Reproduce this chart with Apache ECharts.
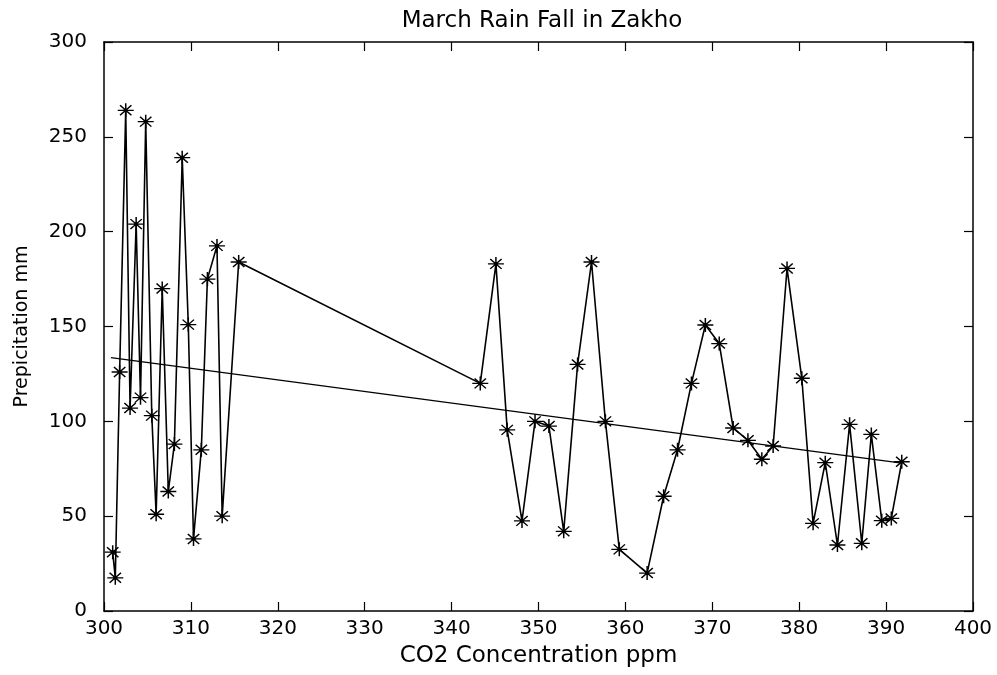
<!DOCTYPE html>
<html>
<head>
<meta charset="utf-8">
<script src="https://cdn.jsdelivr.net/npm/echarts@6/dist/echarts.min.js"></script>
<style>
  html, body { margin: 0; padding: 0; background: #fff; }
  #chart { width: 997px; height: 675px; }
</style>
</head>
<body>
<div id="chart"></div>
<script>
// CO2 concentration (ppm) for each March
const co2 = [301.0, 301.3, 301.8, 302.5, 303.0, 303.7, 304.2, 304.8, 305.5, 306.0,
  306.7, 307.4, 308.1, 309.0, 309.7, 310.3, 311.2, 311.9, 313.0, 313.6, 315.5,
  343.3, 345.1, 346.4, 348.1, 349.6, 351.2, 352.9, 354.5, 356.1, 357.7, 359.3,
  362.5, 364.4, 366.0, 367.6, 369.2, 370.8, 372.4, 374.1, 375.7, 377.0, 378.6,
  380.3, 381.6, 383.0, 384.4, 385.8, 387.2, 388.3, 389.5, 390.6, 391.8]
// precipitation (mm)
const rain = [31, 17.5, 126, 264, 107, 204, 112.5, 258, 103, 51,
  170, 63, 88, 239, 151, 38, 85, 175, 192.5, 50, 184,
  120, 183, 95.5, 47.5, 100, 97.5, 42, 130, 184, 100, 32.5,
  20, 60.5, 85, 120, 150.8, 141, 96.5, 90, 80, 87, 180.6,
  122.7, 46.2, 78.2, 34.8, 98.4, 35.7, 93.1, 47.6, 48.8, 78.7]
// fitted trend line end points
const trendX = [300.8, 391.8]
const trendY = [133.6, 78.0]

const font = 'DejaVu Sans'
const star = 'path://M8,0L8,16M0,8L16,8M2.3,2.3L13.7,13.7M2.3,13.7L13.7,2.3M6.6,6.6L9.4,6.6L9.4,9.4L6.6,9.4Z'

const chart = echarts.init(document.getElementById('chart'))

const baseAxis = {
  axisLine: { show: true, onZero: false, lineStyle: { color: '#000', width: 1.5 } },
  axisTick: { show: true, inside: true, length: 9, lineStyle: { color: '#000', width: 1.2 } },
  splitLine: { show: false }
}

chart.setOption({
  animation: false,
  backgroundColor: '#fff',
  title: {
    text: 'March Rain Fall in Zakho',
    left: 537,
    textAlign: 'center',
    top: 5,
    textStyle: { fontFamily: font, fontSize: 23, fontWeight: 'normal', color: '#000' }
  },
  grid: { left: 104, right: 24, top: 42, bottom: 64 },
  xAxis: [
    Object.assign({}, baseAxis, {
      type: 'value', min: 300, max: 400, interval: 10,
      name: 'CO2 Concentration ppm',
      nameLocation: 'middle',
      nameGap: 34,
      nameTextStyle: { fontFamily: font, fontSize: 23, color: '#000' },
      axisLabel: { fontFamily: font, fontSize: 20, color: '#000', margin: 8 }
    }),
    Object.assign({}, baseAxis, {
      type: 'value', min: 300, max: 400, interval: 10, position: 'top',
      axisLabel: { show: false }
    })
  ],
  yAxis: [
    Object.assign({}, baseAxis, {
      type: 'value', min: 0, max: 300, interval: 50,
      name: 'Prepicitation mm',
      nameLocation: 'middle',
      nameGap: 72,
      nameTextStyle: { fontFamily: font, fontSize: 19, color: '#000' },
      axisLabel: { fontFamily: font, fontSize: 20, color: '#000', margin: 17 }
    }),
    Object.assign({}, baseAxis, {
      type: 'value', min: 0, max: 300, interval: 50, position: 'right',
      axisLabel: { show: false }
    })
  ],
  series: [
    {
      type: 'line',
      data: co2.map((x, i) => [x, rain[i]]),
      symbol: star,
      symbolSize: [16, 14],
      showSymbol: true,
      showAllSymbol: true,
      lineStyle: { color: '#000', width: 1.6 },
      itemStyle: { color: '#000', borderColor: '#000', borderWidth: 1.4 },
      emphasis: { disabled: true }
    },
    {
      type: 'line',
      data: trendX.map((x, i) => [x, trendY[i]]),
      symbol: 'none',
      lineStyle: { color: '#000', width: 1.2 },
      emphasis: { disabled: true }
    }
  ]
})
</script>
</body>
</html>
